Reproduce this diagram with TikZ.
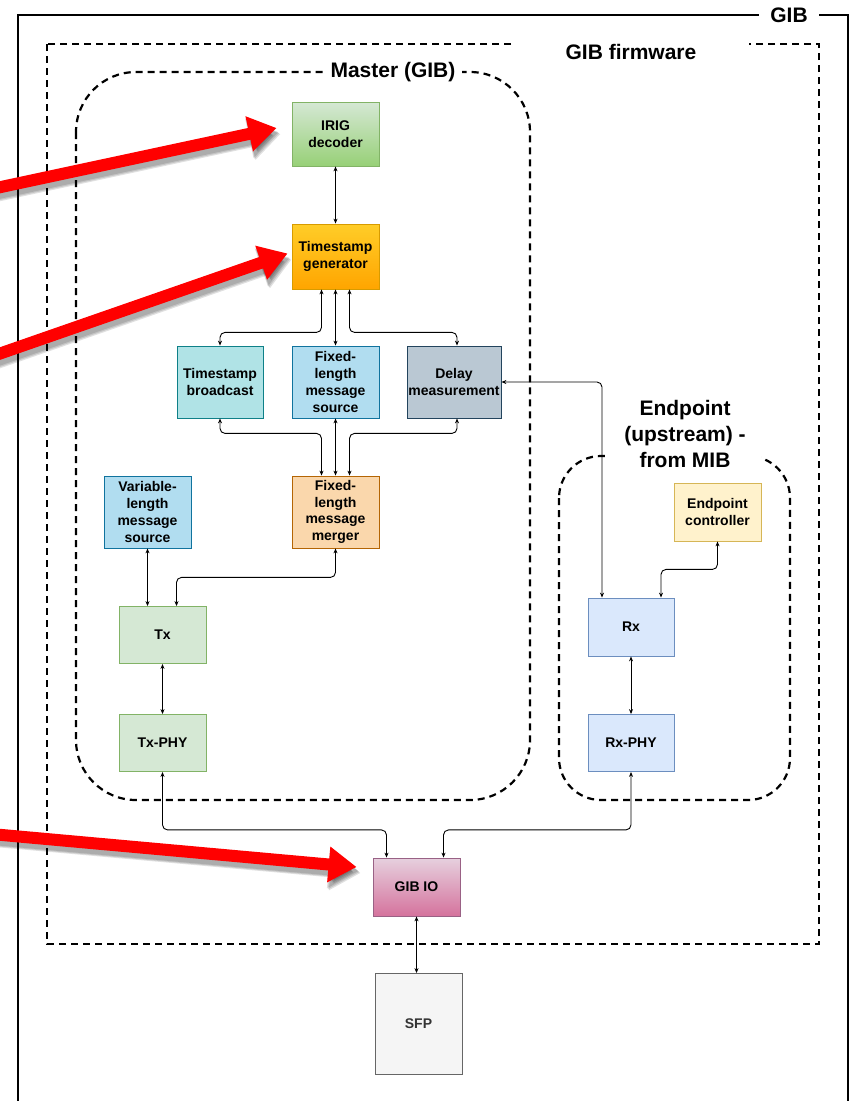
\documentclass[tikz,border=0pt]{standalone}
\usepackage{fontspec}
\setmainfont{Liberation Sans}
\usetikzlibrary{arrows.meta,calc}
\definecolor{gA}{HTML}{D5E8D4}\definecolor{gB}{HTML}{97D077}\definecolor{gD}{HTML}{82B366}
\definecolor{oA}{HTML}{FFCD28}\definecolor{oB}{HTML}{FFA500}\definecolor{oD}{HTML}{D79B00}
\definecolor{tA}{HTML}{B0E3E6}\definecolor{tD}{HTML}{0E8088}
\definecolor{bA}{HTML}{B1DDF0}\definecolor{bD}{HTML}{10739E}
\definecolor{sA}{HTML}{BAC8D3}\definecolor{sD}{HTML}{23445D}
\definecolor{pA}{HTML}{FAD7AC}\definecolor{pD}{HTML}{B46504}
\definecolor{yA}{HTML}{FFF2CC}\definecolor{yD}{HTML}{D6B656}
\definecolor{lA}{HTML}{DAE8FC}\definecolor{lD}{HTML}{6C8EBF}
\definecolor{mA}{HTML}{E6D0DE}\definecolor{mB}{HTML}{D5739D}\definecolor{mD}{HTML}{996185}
\definecolor{fA}{HTML}{F5F5F5}\definecolor{fD}{HTML}{666666}\definecolor{fT}{HTML}{333333}
\newcommand\myboxfont{\fontsize{14}{16.7}\selectfont\bfseries}
\newcommand\mygrpfont{\fontsize{21}{26}\selectfont\bfseries}
\tikzset{
  blk/.style 2 args={draw=#1, fill=#2, line width=0.8pt, align=center, inner sep=0pt, font=\myboxfont},
  sz/.style 2 args={minimum width=#1, minimum height=#2},
  grad/.style 2 args={top color=#1, bottom color=#2},
  conn/.style={draw=black, line width=0.9pt, rounded corners=5pt, {Stealth[length=5pt,width=4pt]}-{Stealth[length=5pt,width=4pt]}},
  dsh/.style={draw=black, line width=2.2pt, dash pattern=on 7pt off 5pt},
  grplabel/.style={fill=white, align=center, font=\mygrpfont, inner sep=2pt},
  redarrow/.style={draw=red, line width=12pt, -{Triangle[length=28pt,width=34pt]}},
  redshadow/.style={draw=black, opacity=0.12, line width=14pt, -{Triangle[length=30pt,width=38pt]}}
}
\begin{document}
\begin{tikzpicture}[x=1pt,y=-1pt]
\clip (0,0) rectangle (850,1101);
\fill[white] (0,0) rectangle (850,1101);
% outer GIB box
\draw[line width=2pt] (18,15) rectangle (848,1130);
\node[grplabel, minimum width=60] (gib) at (789,15) {GIB};
% GIB firmware
\draw[dsh] (47,44) rectangle (819,944);
\node[grplabel, minimum width=236] (fw) at (631,52) {GIB firmware};
% Master
\draw[dsh, rounded corners=60pt] (76,72) rectangle (530,800);
\node[grplabel, minimum width=138] (mst) at (393,72) {Master (GIB)};
% Endpoint
\draw[dsh, rounded corners=42pt] (559,456) rectangle (790,800);
\node[grplabel, minimum width=152] (ep) at (685,434) {Endpoint\\(upstream) -\\from MIB};

% nodes
\node[blk={gD}{gA}, grad={gA}{gB}, sz={87}{64}] (irig) at (335.5,134) {IRIG\\decoder};
\node[blk={oD}{oA}, grad={oA}{oB}, sz={87}{65}] (tg) at (335.5,256.5) {Timestamp\\generator};
\node[blk={tD}{tA}, sz={86}{72}] (tb) at (220,382) {Timestamp\\broadcast};
\node[blk={bD}{bA}, sz={87}{72}] (fls) at (335.5,382) {Fixed-\\length\\message\\source};
\node[blk={sD}{sA}, sz={94}{72}] (dm) at (454,382) {Delay\\measurement};
\node[blk={bD}{bA}, sz={87}{72}] (vls) at (147.5,512) {Variable-\\length\\message\\source};
\node[blk={pD}{pA}, sz={87}{72}] (flm) at (335.5,512) {Fixed-\\length\\message\\merger};
\node[blk={gD}{gA}, sz={87}{57}] (tx) at (162.5,635) {Tx};
\node[blk={gD}{gA}, sz={87}{57}] (txphy) at (162.5,743) {Tx-PHY};
\node[blk={yD}{yA}, sz={87}{58}] (ec) at (717.5,512) {Endpoint\\controller};
\node[blk={lD}{lA}, sz={86}{58}] (rx) at (631,627) {Rx};
\node[blk={lD}{lA}, sz={86}{57}] (rxphy) at (631,743) {Rx-PHY};
\node[blk={mD}{mA}, grad={mA}{mB}, sz={87}{58}] (gibio) at (416.5,887) {GIB IO};
\node[blk={fD}{fA}, sz={87}{101}, text=fT] (sfp) at (418.5,1024) {SFP};

% connectors
\draw[conn] (irig) -- (tg);
\draw[conn] ([xshift=-14]tg.south) -- ++(0,43) -| (tb.north);
\draw[conn] (tg) -- (fls);
\draw[conn] ([xshift=14]tg.south) -- ++(0,43) -| ([xshift=3]dm.north);
\draw[conn] (tb.south) -- ++(0,15) -| ([xshift=-14]flm.north);
\draw[conn] (fls) -- (flm);
\draw[conn] ([xshift=3]dm.south) -- ++(0,15) -| ([xshift=14]flm.north);
\draw[conn] (vls.south) -- (vls.south |- tx.north);
\draw[conn] (flm.south) -- ++(0,29) -| ([xshift=14]tx.north);
\draw[conn] (tx) -- (txphy);
\draw[conn] (txphy.south) -- ++(0,58) -| ([xshift=-30]gibio.north);
\draw[conn] (rxphy.south) -- ++(0,58) -| ([xshift=27]gibio.north);
\draw[conn] (rx) -- (rxphy);
\draw[conn] (ec.south) -- ++(0,28) -| ([xshift=30]rx.north);
\draw[conn] (dm.east) -| ([xshift=-29]rx.north);
\draw[conn] (gibio.south) -- (gibio.south |- sfp.north);

% red annotation arrows
\coordinate (r1s) at (-20,191.5);
\coordinate (r1e) at ([xshift=-15,yshift=6]irig.west);
\coordinate (r2s) at (-20,360.5);
\coordinate (r2e) at ([xshift=-4,yshift=3]tg.west);
\coordinate (r3s) at (-20,833);
\coordinate (r3e) at ([xshift=-16,yshift=20]gibio.west);
\foreach \s in {(2,4),(3,5),(4,6)}{
  \draw[redshadow] ([shift={\s}]r1s) -- ([shift={\s}]r1e);
  \draw[redshadow] ([shift={\s}]r2s) -- ([shift={\s}]r2e);
  \draw[redshadow] ([shift={\s}]r3s) -- ([shift={\s}]r3e);
}
\draw[redarrow] (r1s) -- (r1e);
\draw[redarrow] (r2s) -- (r2e);
\draw[redarrow] (r3s) -- (r3e);
\end{tikzpicture}
\end{document}
